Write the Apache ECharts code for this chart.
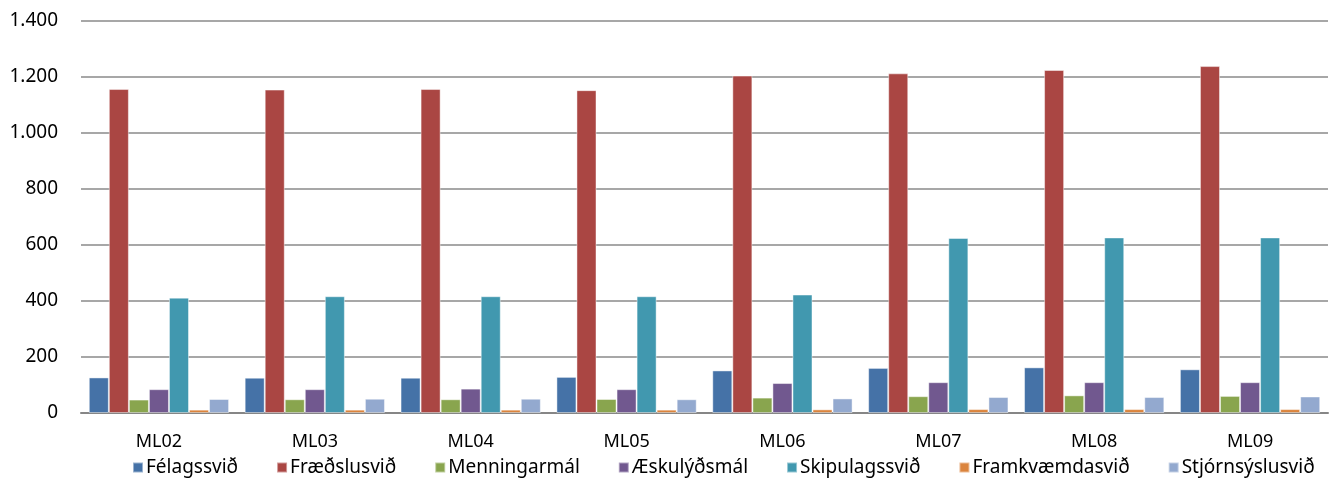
<!DOCTYPE html>
<html>
<head>
<meta charset="utf-8">
<script src="https://cdn.jsdelivr.net/npm/echarts@6/dist/echarts.min.js"></script>
<style>
html,body{margin:0;padding:0;background:#fff;}
#chart{width:1329px;height:492px;}
</style>
</head>
<body>
<div id="chart"></div>
<script>
const categories = ["ML02","ML03","ML04","ML05","ML06","ML07","ML08","ML09"];
const seriesNames = ["Félagssvið","Fræðslusvið","Menningarmál","Æskulýðsmál","Skipulagssvið","Framkvæmdasvið","Stjórnsýslusvið"];
const felagssvid = [127, 126, 126, 129, 152, 161, 163, 156];
const fraedslusvid = [1157, 1155, 1157, 1153, 1205, 1213, 1225, 1239];
const menningarmal = [48, 49, 49, 50, 55, 60, 63, 61];
const aeskulydsmal = [85, 85, 87, 85, 107, 110, 110, 110];
const skipulagssvid = [412, 417, 417, 417, 423, 625, 627, 627];
const framkvaemdasvid = [12, 12, 12, 12, 13, 14, 14, 14];
const stjornsyslusvid = [50, 51, 51, 49, 52, 57, 57, 59];
const yTicks = [0, 200, 400, 600, 800, 1000, 1200, 1400];

const colors = ["#4572A7","#AA4643","#89A54E","#71588F","#4198AF","#DB843D","#93A9CF"];
const allData = [felagssvid, fraedslusvid, menningarmal, aeskulydsmal, skipulagssvid, framkvaemdasvid, stjornsyslusvid];
const font = "Noto Sans";

const chart = echarts.init(document.getElementById('chart'));
chart.setOption({
  animation: false,
  color: colors,
  grid: {left: 81, right: 1, top: 21, bottom: 79, containLabel: false},
  legend: {
    data: seriesNames,
    bottom: 10,
    left: 127,
    icon: 'rect',
    itemWidth: 10,
    itemHeight: 10,
    itemGap: 38,
    textStyle: {fontFamily: font, fontSize: 19, color: '#000', padding: [0,0,0,-2]}
  },
  xAxis: {
    type: 'category',
    data: categories,
    axisLine: {lineStyle: {color: '#868686', width: 2}},
    axisTick: {show: false},
    axisLabel: {fontFamily: font, fontSize: 18, color: '#000', margin: 20}
  },
  yAxis: {
    type: 'value',
    min: yTicks[0],
    max: yTicks[yTicks.length-1],
    interval: 200,
    axisLine: {show: false},
    axisTick: {show: false},
    splitLine: {lineStyle: {color: '#8a8a8a', width: 1.5}},
    axisLabel: {
      fontFamily: font, fontSize: 19, color: '#000', margin: 23,
      formatter: v => v.toString().replace(/\B(?=(\d{3})+(?!\d))/g, '.')
    }
  },
  series: seriesNames.map((n, i) => ({
    name: n,
    type: 'bar',
    data: allData[i],
    barGap: '0%',
    barCategoryGap: '10%',
    itemStyle: {borderColor: 'rgba(255,255,255,0.45)', borderWidth: 1}
  }))
});
</script>
</body>
</html>
